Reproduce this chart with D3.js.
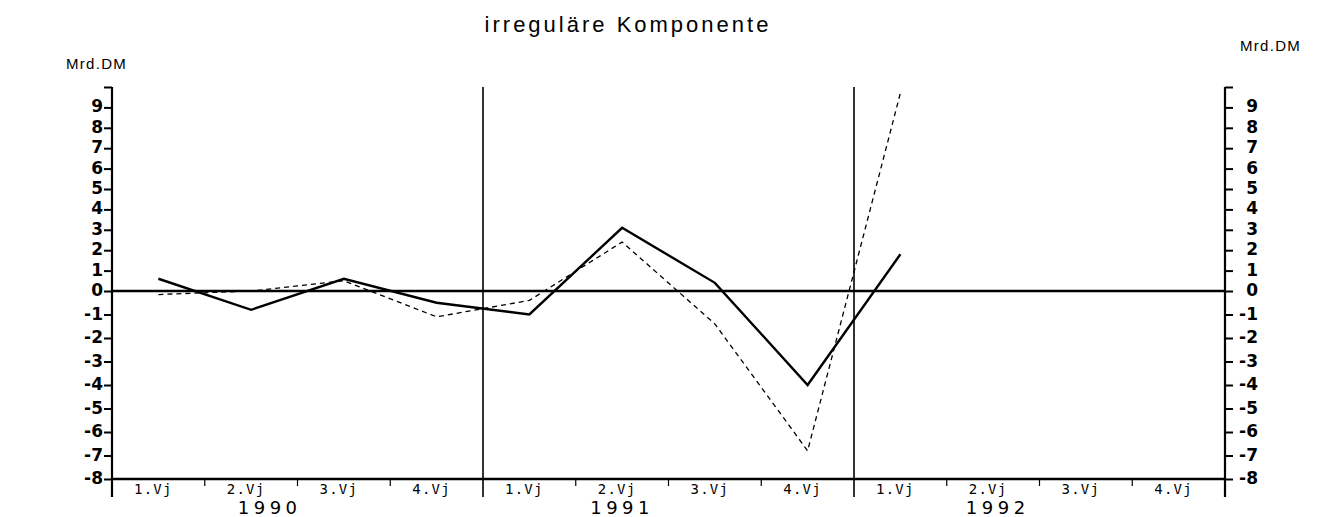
<!DOCTYPE html>
<html>
<head>
<meta charset="utf-8">
<script src="https://cdn.jsdelivr.net/npm/d3@7"></script>
<style>
  body { margin: 0; background: #fff; }
  svg { display: block; }
</style>
</head>
<body>
<svg id="chart"></svg>
<script>
// quarters on the x axis, years below them
const quarterLabels = ['1.Vj', '2.Vj', '3.Vj', '4.Vj'];
const yearLabels = ['1990', '1991', '1992'];
const yTicks = d3.range(-8, 10); // -8 .. 9 labelled, top tick at 10 unlabelled

// irregular component, Mrd.DM, 1.Vj 1990 .. 1.Vj 1992
const solidSeries = [0.6, -0.8, 0.6, -0.5, -1.0, 3.1, 0.4, -4.0, 1.8];
const dashedSeries = [-0.15, 0.0, 0.5, -1.1, -0.4, 2.4, -1.4, -6.8, 9.7];

const WIDTH = 1334;
const HEIGHT = 517;
const LEFT = 112;
const RIGHT = 1225;
// where the year names sit, in quarter units (the original isn't centred)
const YEAR_POS = [1.7, 5.5, 9.55];

const svg = d3.select('#chart').attr('width', WIDTH).attr('height', HEIGHT);

const x = d3.scaleLinear().domain([0, 12]).range([LEFT, RIGHT]);
// scan is a bit stretched below zero
const y = d3.scaleLinear().domain([-8, 0, 10]).range([479, 291, 87]);

// title + units
svg.append('text')
  .attr('x', 628).attr('y', 32)
  .attr('text-anchor', 'middle')
  .style('font-family', 'Liberation Sans, Arial, sans-serif')
  .style('font-size', '22px')
  .style('letter-spacing', '3px')
  .text('irreguläre Komponente');

svg.append('text')
  .attr('x', 66).attr('y', 69)
  .style('font-family', 'Liberation Sans, Arial, sans-serif')
  .style('font-size', '15px')
  .style('letter-spacing', '1.3px')
  .text('Mrd.DM');

svg.append('text')
  .attr('x', 1240).attr('y', 51)
  .style('font-family', 'Liberation Sans, Arial, sans-serif')
  .style('font-size', '15px')
  .style('letter-spacing', '1.3px')
  .text('Mrd.DM');

// left axis, ticks pointing outwards
const leftAxis = svg.append('g')
  .attr('transform', `translate(${LEFT},0)`)
  .call(d3.axisLeft(y).tickValues(d3.range(-8, 11)).tickSize(8).tickFormat(''));

const rightAxis = svg.append('g')
  .attr('transform', `translate(${RIGHT},0)`)
  .call(d3.axisRight(y).tickValues(d3.range(-8, 11)).tickSize(8).tickFormat(''));

[leftAxis, rightAxis].forEach((ax) => {
  ax.select('.domain').remove();
  ax.selectAll('line').attr('stroke', '#000').attr('stroke-width', 2);
});

// axis spines run a little below the bottom line
svg.selectAll('.spine')
  .data([LEFT, RIGHT])
  .enter()
  .append('line')
  .attr('x1', (d) => d).attr('x2', (d) => d)
  .attr('y1', y(10)).attr('y2', 497)
  .attr('stroke', '#000').attr('stroke-width', 2.2);

// y tick labels, stacked digits
const labelFont = (sel) => sel
  .style('font-family', 'DejaVu Sans, sans-serif')
  .style('font-size', '17px')
  .style('font-weight', '600')
  .attr('dominant-baseline', 'middle')
  .attr('text-anchor', 'end');

svg.append('g').selectAll('text')
  .data(yTicks)
  .enter()
  .append('text')
  .attr('x', 103)
  .attr('y', (d) => y(d))
  .call(labelFont)
  .text((d) => (d < 0 ? '-' + Math.abs(d) : d));

svg.append('g').selectAll('text')
  .data(yTicks)
  .enter()
  .append('text')
  .attr('x', 1258)
  .attr('y', (d) => y(d))
  .call(labelFont)
  .text((d) => (d < 0 ? '-' + Math.abs(d) : d));

// year separators
svg.selectAll('.yearLine')
  .data([4, 8])
  .enter()
  .append('line')
  .attr('x1', (d) => x(d)).attr('x2', (d) => x(d))
  .attr('y1', y(10)).attr('y2', 497)
  .attr('stroke', '#000').attr('stroke-width', 1.6);

// bottom line and zero line
svg.append('line')
  .attr('x1', LEFT).attr('x2', RIGHT)
  .attr('y1', y(-8)).attr('y2', y(-8))
  .attr('stroke', '#000').attr('stroke-width', 2.4);

svg.append('line')
  .attr('x1', LEFT).attr('x2', RIGHT)
  .attr('y1', y(0)).attr('y2', y(0))
  .attr('stroke', '#000').attr('stroke-width', 2.4);

// small quarter ticks under the bottom line
svg.selectAll('.qTick')
  .data(d3.range(1, 12).filter((i) => i % 4 !== 0))
  .enter()
  .append('line')
  .attr('x1', (d) => x(d)).attr('x2', (d) => x(d))
  .attr('y1', y(-8)).attr('y2', y(-8) + 7)
  .attr('stroke', '#000').attr('stroke-width', 1.2);

// quarter + year labels
const quarters = d3.range(12).map((i) => ({ i, label: quarterLabels[i % 4] }));
svg.selectAll('.qLabel')
  .data(quarters)
  .enter()
  .append('text')
  .attr('x', (d) => x(d.i + 0.5) - 5)
  .attr('y', 494)
  .attr('text-anchor', 'middle')
  .style('font-family', 'DejaVu Sans Mono, monospace')
  .style('font-size', '14px')
  .style('letter-spacing', '1.2px')
  .text((d) => d.label);

svg.selectAll('.yLabel')
  .data(yearLabels)
  .enter()
  .append('text')
  .attr('x', (d, i) => x(YEAR_POS[i]))
  .attr('y', 514)
  .attr('text-anchor', 'middle')
  .style('font-family', 'DejaVu Sans, sans-serif')
  .style('font-size', '18px')
  .style('letter-spacing', '4.5px')
  .text((d) => d);

// series
const line = d3.line()
  .x((d, i) => x(i + 0.5))
  .y((d) => y(d));

svg.append('path')
  .datum(dashedSeries)
  .attr('d', line)
  .attr('fill', 'none')
  .attr('stroke', '#000')
  .attr('stroke-width', 1.3)
  .attr('stroke-dasharray', '5,4');

svg.append('path')
  .datum(solidSeries)
  .attr('d', line)
  .attr('fill', 'none')
  .attr('stroke', '#000')
  .attr('stroke-width', 2.4)
  .attr('stroke-linejoin', 'miter');
</script>
</body>
</html>
